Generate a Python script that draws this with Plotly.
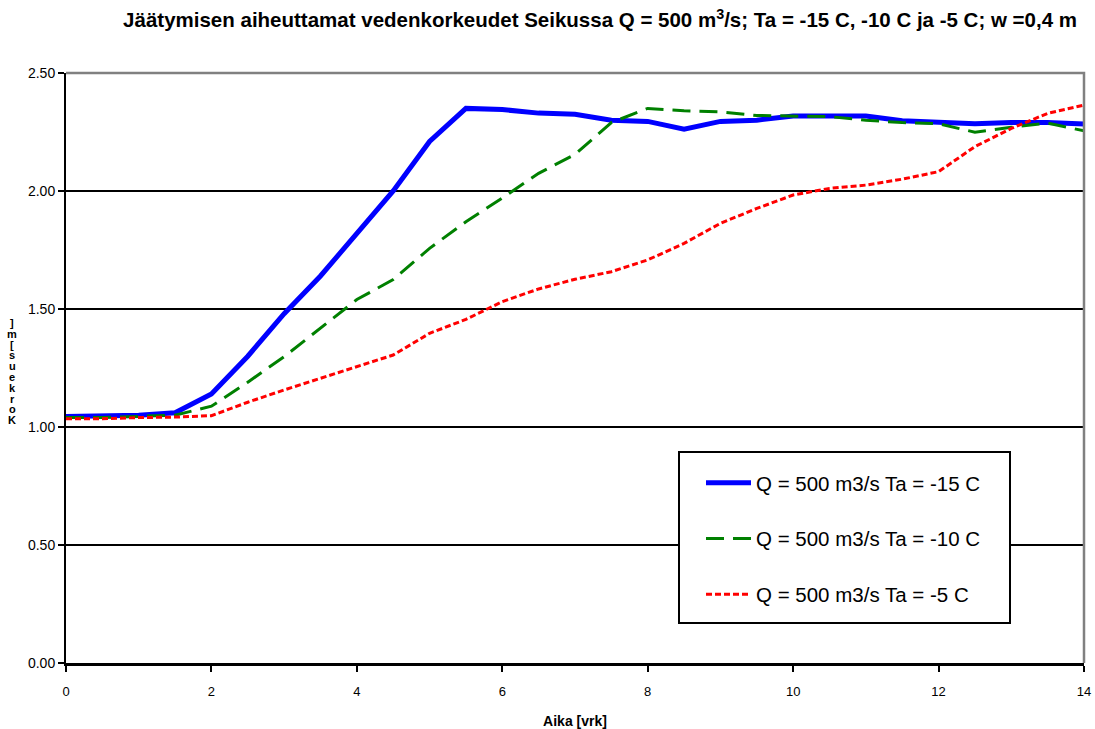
import plotly.graph_objects as go

# Time axis (days) and water levels for the three air temperatures
aika = [0, 0.5, 1, 1.5, 2, 2.5, 3, 3.5, 4, 4.5, 5, 5.5, 6, 6.5, 7, 7.5, 8, 8.5,
        9, 9.5, 10, 10.5, 11, 11.5, 12, 12.5, 13, 13.5, 14]

ta_15 = [1.045, 1.045, 1.05, 1.06, 1.14, 1.30, 1.48, 1.64, 1.82, 2.00, 2.21, 2.35,
         2.345, 2.33, 2.325, 2.30, 2.295, 2.262, 2.295, 2.30, 2.318, 2.318, 2.318,
         2.298, 2.292, 2.285, 2.29, 2.29, 2.284]

ta_10 = [1.04, 1.04, 1.045, 1.05, 1.088, 1.19, 1.298, 1.418, 1.54, 1.625, 1.757,
         1.87, 1.97, 2.075, 2.155, 2.29, 2.35, 2.34, 2.335, 2.32, 2.318, 2.315,
         2.30, 2.29, 2.285, 2.249, 2.27, 2.288, 2.255]

ta_5 = [1.035, 1.035, 1.04, 1.042, 1.048, 1.105, 1.157, 1.206, 1.256, 1.305, 1.397,
        1.456, 1.531, 1.585, 1.626, 1.658, 1.708, 1.778, 1.863, 1.926, 1.983, 2.011,
        2.025, 2.05, 2.082, 2.188, 2.265, 2.329, 2.364]

nimet = ["Q = 500 m3/s Ta = -15 C", "Q = 500 m3/s Ta = -10 C", "Q = 500 m3/s Ta = -5 C"]

y_ticks = [0, 0.5, 1.0, 1.5, 2.0, 2.5]
x_ticks = [0, 2, 4, 6, 8, 10, 12, 14]

otsikko = ("Jäätymisen aiheuttamat vedenkorkeudet Seikussa Q = 500 m<sup>3</sup>/s; "
           "Ta = -15 C, -10 C ja -5 C; w =0,4 m")
y_otsikko = "Korkeus [m]"

W, H = 1095, 729
ML, MR, MT, MB = 66, 11, 73, 66
PW, PH = W - ML - MR, H - MT - MB


def px_x(p):
    """Pixel column -> paper x."""
    return (p - ML) / PW


def px_y(p):
    """Pixel row -> paper y."""
    return (H - MB - p) / PH


fig = go.Figure()
fig.add_trace(go.Scatter(x=aika, y=ta_15, mode="lines", name=nimet[0], legendgroup="a",
                         line=dict(color="#0000FF", width=5)))
fig.add_trace(go.Scatter(x=aika, y=ta_10, mode="lines", name=nimet[1], legendgroup="b",
                         line=dict(color="#008000", width=3, dash="18px,9px")))
fig.add_trace(go.Scatter(x=aika, y=ta_5, mode="lines", name=nimet[2], legendgroup="c",
                         line=dict(color="#FF0000", width=3, dash="6px,3px")))

# Grey top and right edges of the plot frame
fig.add_shape(type="path", xref="paper", yref="paper", path="M 0,1 L 1,1 L 1,0",
              line=dict(color="#808080", width=2.5), layer="above")

# Legend box
fig.add_shape(type="rect", xref="paper", yref="paper",
              x0=px_x(679), x1=px_x(1010), y0=px_y(623), y1=px_y(452),
              line=dict(color="black", width=2), fillcolor="white", layer="above")

# Upright, stacked characters of the y axis title (bottom to top)
chars = list(reversed(y_otsikko.replace(" ", "")))
top_row, pitch = 323, 10.8
for i, ch in enumerate(chars):
    fig.add_annotation(text="<b>" + ch + "</b>", xref="paper", yref="paper",
                       x=px_x(12), y=px_y(top_row + i * pitch),
                       xanchor="center", yanchor="middle", showarrow=False,
                       font=dict(family="Liberation Sans, Arial", size=11, color="black"))

fig.update_layout(
    width=W, height=H,
    margin=dict(l=ML, r=MR, t=MT, b=MB),
    paper_bgcolor="white", plot_bgcolor="white",
    title=dict(text="<b>" + otsikko + "</b>", x=0.548, xanchor="center",
               y=1 - 20 / H, yanchor="middle",
               font=dict(family="Liberation Sans, Arial", size=20.5, color="black")),
    font=dict(family="Liberation Sans, Arial", size=13, color="black"),
    showlegend=True,
    legend=dict(x=px_x(701), y=px_y(463), xanchor="left", yanchor="top",
                bgcolor="rgba(0,0,0,0)", borderwidth=0,
                font=dict(size=20.5, family="Liberation Sans, Arial"),
                itemwidth=45, tracegroupgap=26),
)

fig.update_xaxes(range=[0, 14], tickvals=x_ticks, showgrid=False, automargin=False,
                 showline=True, linecolor="black", linewidth=3,
                 ticks="outside", ticklen=6, tickcolor="black", tickwidth=1.5,
                 ticklabelstandoff=8, zeroline=False,
                 title=dict(text="<b>Aika [vrk]</b>", font=dict(size=14), standoff=20))
fig.update_yaxes(range=[0, 2.5], tickvals=y_ticks, tickformat=".2f", automargin=False,
                 showgrid=True, gridcolor="black", gridwidth=2,
                 showline=True, linecolor="black", linewidth=2,
                 ticks="outside", ticklen=6, tickcolor="black", tickwidth=1.5,
                 tickfont=dict(size=14), zeroline=False)

fig.write_html("out.html")
